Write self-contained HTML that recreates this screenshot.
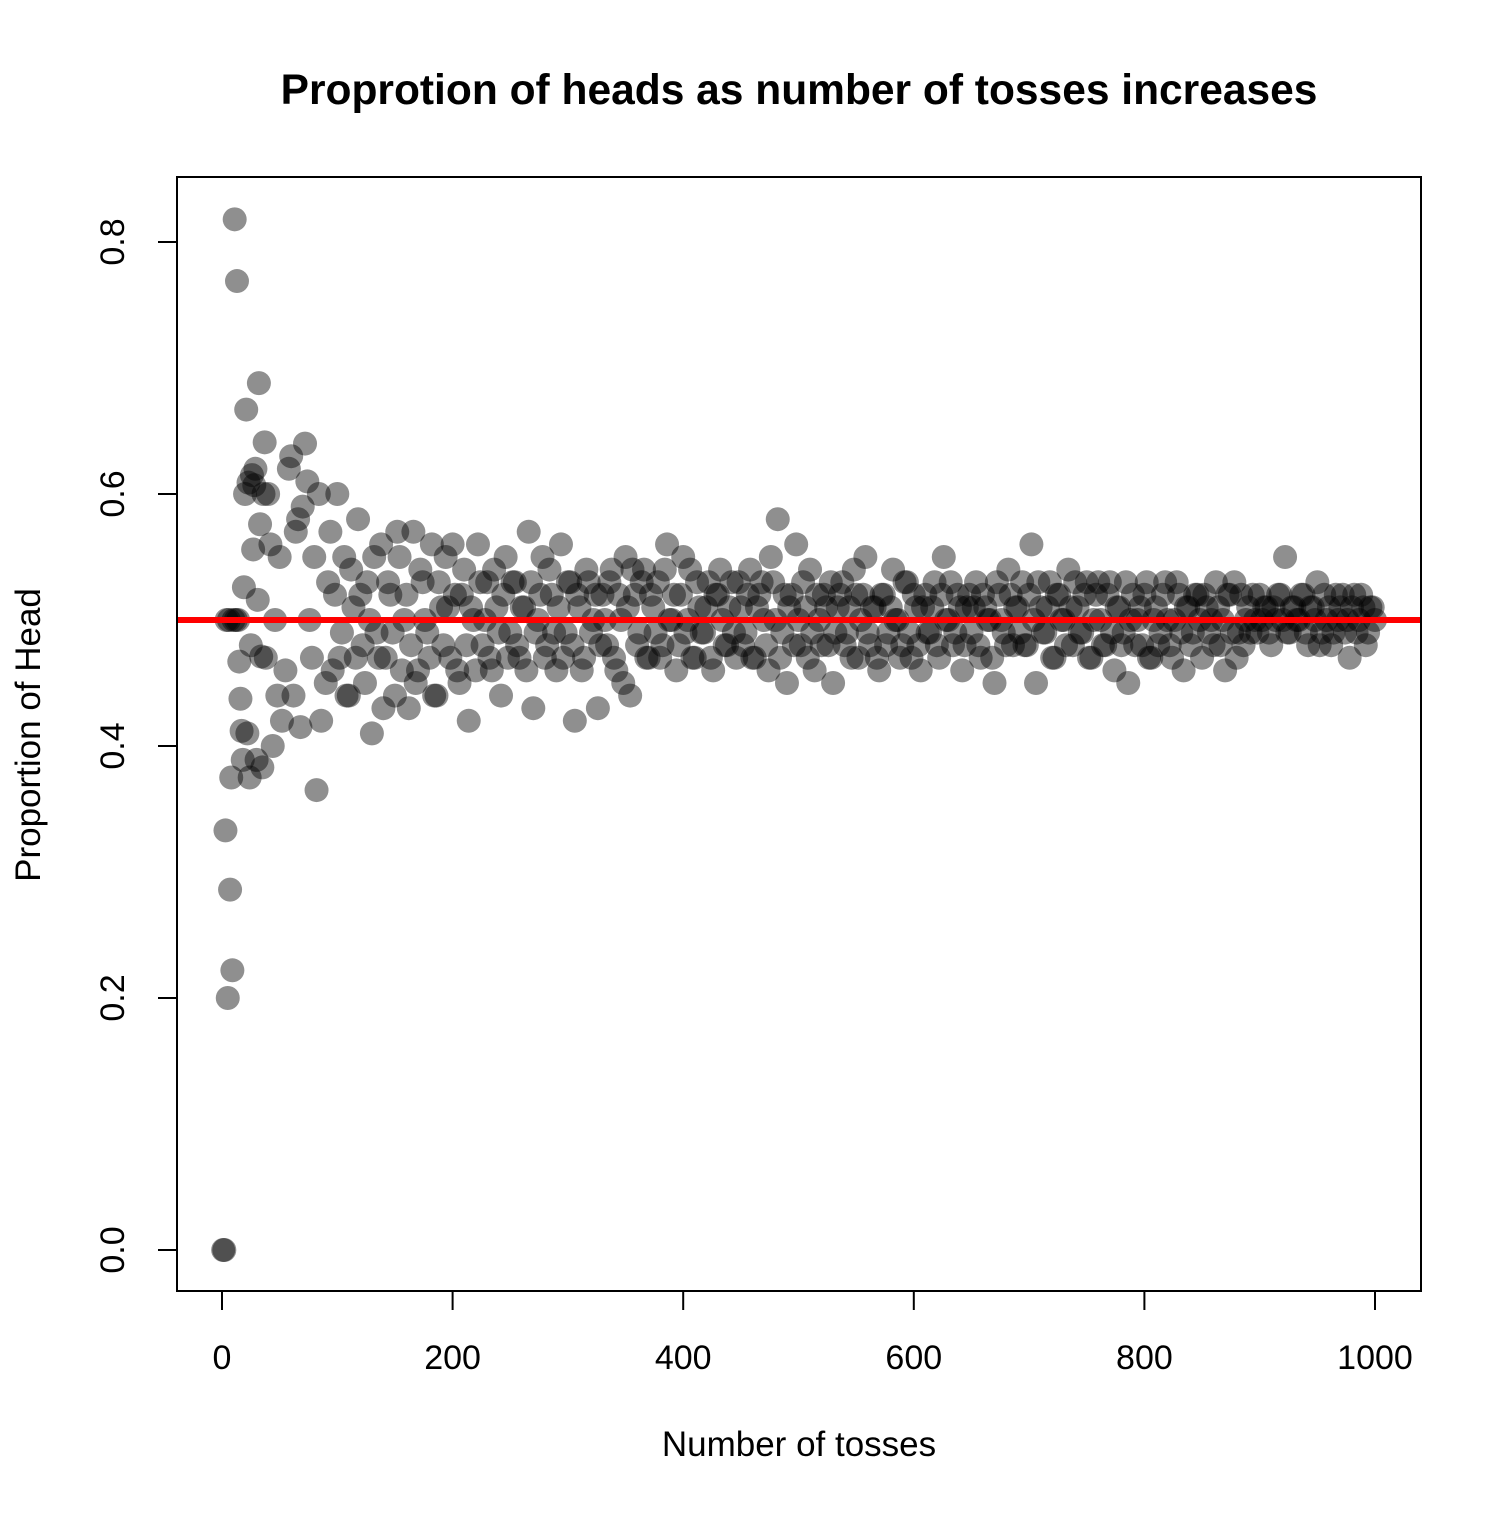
<!DOCTYPE html>
<html><head><meta charset="utf-8"><style>
body{margin:0;background:#fff}
svg text{font-family:"Liberation Sans",sans-serif}
</style></head><body>
<svg id="chart" width="1512" height="1512" viewBox="0 0 1512 1512">
<rect width="1512" height="1512" fill="#fff"/>
<text x="799" y="104" text-anchor="middle" font-size="42.5" font-weight="bold">Proprotion of heads as number of tosses increases</text>
<g id="points"></g>
<g id="axes"></g>
<rect x="177" y="177" width="1244" height="1114" fill="none" stroke="#000" stroke-width="2"/>
<text x="799" y="1456" text-anchor="middle" font-size="35">Number of tosses</text>
<text transform="translate(40,735) rotate(-90)" text-anchor="middle" font-size="35">Proportion of Head</text>
</svg>
<script>
const earlyTosses=[1,2,3,4,5,6,7,8,9,10,11,12,13,14,15,16,17,18,19,20,21,22,23,24,25,26,27,28,29,30,31,32,33,34,35,36,37,38,40,42,44,46,48,50,52,55,58,60,62,64,66,68,70,72,74,76,78,80,82,84,86];
const earlyProps=[0,0,0.333,0.5,0.2,0.5,0.286,0.375,0.222,0.5,0.818,0.5,0.769,0.5,0.467,0.4375,0.412,0.389,0.526,0.6,0.667,0.41,0.609,0.375,0.48,0.615,0.556,0.607,0.62,0.389,0.516,0.688,0.576,0.471,0.383,0.6,0.641,0.47,0.6,0.56,0.4,0.5,0.44,0.55,0.42,0.46,0.62,0.63,0.44,0.57,0.58,0.415,0.59,0.64,0.61,0.5,0.47,0.55,0.365,0.6,0.42];
const laterStart=90, laterStep=4;
const laterProps=[0.45,0.57,0.52,0.47,0.55,0.44,0.51,0.58,0.48,0.53,
0.41,0.49,0.56,0.47,0.52,0.44,0.55,0.50,0.43,0.57,
0.46,0.53,0.49,0.56,0.44,0.51,0.55,0.47,0.52,0.45,
0.54,0.42,0.50,0.56,0.48,0.53,0.46,0.51,0.44,0.55,
0.49,0.53,0.47,0.51,0.57,0.43,0.50,0.55,0.48,0.52,
0.46,0.56,0.49,0.53,0.42,0.51,0.47,0.53,0.50,0.43,
0.52,0.48,0.54,0.46,0.50,0.55,0.44,0.52,0.49,0.54,
0.47,0.51,0.53,0.48,0.56,0.50,0.46,0.52,0.49,0.54,
0.47,0.51,0.49,0.53,0.46,0.52,0.50,0.48,0.53,0.47,
0.51,0.49,0.54,0.47,0.52,0.50,0.46,0.53,0.58,0.49,
0.45,0.52,0.56,0.48,0.51,0.54,0.46,0.50,0.52,0.48,
0.45,0.51,0.53,0.49,0.47,0.52,0.50,0.55,0.48,0.51,
0.46,0.52,0.49,0.54,0.50,0.48,0.53,0.47,0.51,0.46,
0.52,0.49,0.53,0.47,0.55,0.50,0.48,0.52,0.46,0.51,
0.49,0.53,0.47,0.51,0.50,0.45,0.52,0.49,0.54,0.48,
0.51,0.53,0.48,0.56,0.45,0.51,0.49,0.53,0.47,0.52,
0.50,0.54,0.48,0.51,0.49,0.53,0.47,0.52,0.50,0.48,
0.53,0.46,0.51,0.49,0.45,0.52,0.50,0.48,0.53,0.47,
0.51,0.49,0.53,0.48,0.50,0.52,0.46,0.51,0.49,0.52,
0.47,0.51,0.50,0.53,0.48,0.46,0.52,0.53,0.49,0.48,
0.51,0.52,0.49,0.50,0.51,0.48,0.50,0.52,0.55,0.49,
0.51,0.50,0.52,0.48,0.51,0.53,0.49,0.50,0.48,0.52,
0.51,0.49,0.47,0.52,0.50,0.51,0.49,0.51];
const laterStart2=92;
const laterProps2=[0.53,0.46,0.60,0.49,0.44,0.54,0.47,0.52,0.45,0.50,
0.55,0.47,0.43,0.53,0.49,0.57,0.46,0.52,0.48,0.45,
0.54,0.50,0.47,0.44,0.53,0.48,0.51,0.56,0.46,0.52,
0.48,0.51,0.46,0.53,0.50,0.47,0.54,0.49,0.52,0.47,
0.53,0.48,0.51,0.46,0.53,0.49,0.52,0.47,0.54,0.49,
0.51,0.47,0.53,0.48,0.52,0.46,0.54,0.49,0.52,0.48,
0.50,0.53,0.47,0.52,0.45,0.51,0.54,0.48,0.53,0.47,
0.52,0.49,0.47,0.54,0.50,0.52,0.48,0.55,0.50,0.47,
0.53,0.49,0.51,0.47,0.52,0.54,0.48,0.51,0.49,0.53,
0.48,0.52,0.47,0.51,0.53,0.48,0.55,0.50,0.47,0.52,
0.51,0.48,0.50,0.53,0.47,0.49,0.52,0.48,0.51,0.53,
0.49,0.52,0.48,0.51,0.54,0.47,0.52,0.49,0.51,0.47,
0.52,0.48,0.51,0.50,0.47,0.53,0.49,0.52,0.48,0.51,
0.49,0.51,0.48,0.52,0.50,0.53,0.49,0.51,0.48,0.52,
0.51,0.48,0.52,0.50,0.47,0.53,0.50,0.48,0.52,0.51,
0.49,0.48,0.52,0.50,0.53,0.49,0.51,0.47,0.52,0.50,
0.48,0.51,0.53,0.49,0.52,0.47,0.50,0.53,0.48,0.52,
0.49,0.51,0.48,0.53,0.50,0.48,0.51,0.52,0.47,0.50,
0.48,0.52,0.50,0.47,0.53,0.49,0.51,0.48,0.52,0.50,
0.52,0.49,0.48,0.51,0.50,0.52,0.49,0.47,0.52,0.50,
0.49,0.50,0.52,0.51,0.49,0.51,0.52,0.50,0.49,0.51,
0.50,0.52,0.49,0.51,0.50,0.48,0.52,0.51,0.49,0.50,
0.52,0.50,0.51,0.49,0.52,0.48,0.51,0.50];
const xTicks=[0,200,400,600,800,1000];
const yTicks=[0,0.2,0.4,0.6,0.8];
const yTickLabels=["0.0","0.2","0.4","0.6","0.8"];
const refLine=[0.5];

const NS="http://www.w3.org/2000/svg";
const xs=v=>222+(v/1000)*1153;
const ys=v=>1250-(v/0.8)*1008;
const pts=document.getElementById('points'), ax=document.getElementById('axes');
function mk(tag,attrs,parent){const e=document.createElementNS(NS,tag);for(const k in attrs)e.setAttribute(k,attrs[k]);parent.appendChild(e);return e;}
function dot(n,p){const c=mk('circle',{cx:xs(n),cy:ys(p),r:12,fill:'rgba(0,0,0,0.44)'},pts);

}
earlyTosses.forEach((n,i)=>dot(n,earlyProps[i]));
laterProps.forEach((p,i)=>dot(laterStart+i*laterStep,p));
laterProps2.forEach((p,i)=>dot(laterStart2+i*laterStep,p));
refLine.forEach(v=>{const l=mk('line',{x1:177,x2:1421,y1:ys(v),y2:ys(v),stroke:'#ff0000','stroke-width':6},pts);

});
mk('line',{x1:xs(0),x2:xs(1000),y1:1291,y2:1291,stroke:'#000','stroke-width':2},ax);
xTicks.forEach(v=>{const l=mk('line',{x1:xs(v),x2:xs(v),y1:1291,y2:1310,stroke:'#000','stroke-width':2},ax);


const t=mk('text',{x:xs(v),y:1369,'text-anchor':'middle','font-size':34},ax);t.textContent=v;

});
yTicks.forEach((v,i)=>{const l=mk('line',{x1:158,x2:177,y1:ys(v),y2:ys(v),stroke:'#000','stroke-width':2},ax);


const t=mk('text',{transform:`translate(124,${ys(v)}) rotate(-90)`,'text-anchor':'middle','font-size':34},ax);t.textContent=yTickLabels[i];

});
</script>
</body></html>
